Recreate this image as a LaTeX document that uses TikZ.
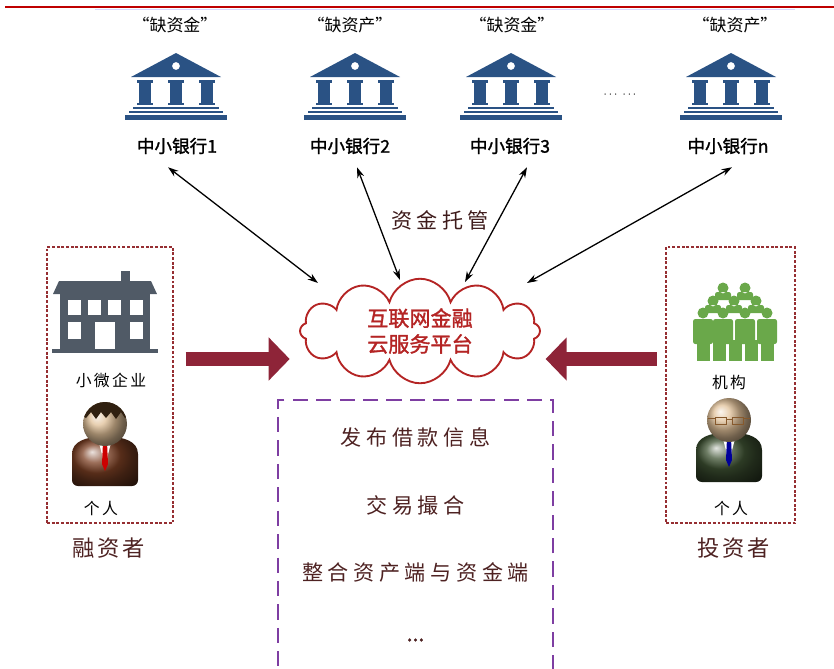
\documentclass[tikz,border=0pt]{standalone}
\usepackage{fontspec}
\setmainfont{Noto Sans CJK SC}[AutoFakeBold=1.5]
\usetikzlibrary{arrows.meta,calc,positioning,shapes.symbols}
\definecolor{bankblue}{RGB}{42,82,132}
\definecolor{housegray}{RGB}{80,90,102}
\definecolor{crowdgreen}{RGB}{106,168,74}
\definecolor{dotred}{RGB}{150,46,50}
\definecolor{blockred}{RGB}{142,36,56}
\definecolor{cloudred}{RGB}{180,36,36}
\definecolor{boxpurple}{RGB}{126,62,162}
\definecolor{inkbrown}{RGB}{78,34,34}
\definecolor{skin}{RGB}{224,192,152}
\definecolor{suitbrown}{RGB}{124,64,36}
\definecolor{suitgreen}{RGB}{64,84,52}
\tikzset{
  quote/.style={font=\fontsize{14.5}{16}\selectfont},
  yinhang/.style={font=\fontsize{15}{16}\selectfont\bfseries},
  tuoguan/.style={
    text=inkbrown!80!black,
    font=\fontsize{18}{20}\selectfont\addfontfeature{LetterSpace=20}
  },
  yun/.style={
    cloud,
    cloud puffs=12,
    cloud ignores aspect,
    draw=cloudred,
    line width=1.6pt,
    minimum width=7.2cm,
    minimum height=2.4cm,
    align=center,
    text=cloudred,
    font=\fontsize{18}{22}\selectfont\bfseries
  },
  dotbox/.style={
    draw=dotred,
    line width=1.5pt,
    dash pattern=on 2.5pt off 1.5pt,
    inner sep=0pt,
    minimum height=8.28cm
  },
  funcbox/.style={
    draw=boxpurple,
    line width=1.8pt,
    dash pattern=on 13pt off 7pt,
    inner sep=0pt,
    minimum width=8.25cm,
    minimum height=9cm
  },
  xiao/.style={font=\fontsize{13.5}{15}\selectfont\addfontfeature{LetterSpace=15}},
  juese/.style={
    text=inkbrown,
    font=\fontsize{19}{21}\selectfont\addfontfeature{LetterSpace=12}
  },
  gongneng/.style={
    text=inkbrown,
    font=\fontsize{18}{20}\selectfont\addfontfeature{LetterSpace=22}
  },
  link/.style={
    <->,
    >={Stealth[length=9pt,width=6pt]},
    line width=1.1pt
  },
  bigarrow/.style={
    blockred,
    line width=12pt,
    -{Triangle[length=18pt,width=36pt]}
  },
  bank/.pic={
    \fill[bankblue,even odd rule] (-45,-8) -- (0,-32) -- (45,-8) -- cycle
      (0,-19) circle[radius=4];
    \foreach \cx in {-31,0,31}{
      \fill[bankblue] (\cx-8,-5) rectangle (\cx+8,-2);
      \fill[bankblue] (\cx-6,-2) rectangle (\cx+6,18);
      \fill[bankblue] (\cx-8,18) rectangle (\cx+8,20);
    }
    \fill[bankblue] (-43,22) rectangle (43,24);
    \fill[bankblue] (-47,25.5) rectangle (47,28);
    \fill[bankblue] (-51,30) rectangle (51,35);
  },
  pics/person/.style 2 args={code={
    \shade[ball color=#1,rounded corners=5pt] (-33,62) -- (-33,36)
      .. controls (-33,17) and (-18,13) .. (0,13)
      .. controls (18,13) and (33,17) .. (33,36) -- (33,62) -- cycle;
    \fill[white] (-7,15) -- (7,15) -- (0,42) -- cycle;
    \fill[#2] (-2,18) -- (2,18) -- (3,40) -- (0,47) -- (-3,40) -- cycle;
    \shade[ball color=skin] (0,0) circle[radius=22];
  }}
}

\begin{document}
\begin{tikzpicture}[x=0.03cm,y=-0.03cm]
\useasboundingbox (0,0) rectangle (834,669);
\draw[red!75!black,line width=0.9pt] (5,7) -- (834,7);
\draw[blue!15,line width=1pt] (95,9.5) -- (795,9.5);

% banks
\node[quote] (q1) at (175,25) {“缺资金”};
\node[quote] (q2) at (350,25) {“缺资产”};
\node[quote] (q3) at (512,25) {“缺资金”};
\node[quote] (q4) at (735,25) {“缺资产”};
\pic at (176,85) {bank};
\pic at (355,85) {bank};
\pic at (511,85) {bank};
\pic at (731,85) {bank};
\node (dots) at (620,95) {$\cdots\;\cdots$};
\node[yinhang] (n1) at (177,146) {中小银行1};
\node[yinhang] (n2) at (350,146) {中小银行2};
\node[yinhang] (n3) at (510,146) {中小银行3};
\node[yinhang] (n4) at (728,146) {中小银行n};

\node[yun] (yun) at (420,331) {互联网金融\\云服务平台};
\node[tuoguan] (tg) at (440,220) {资金托管};
\coordinate (e1) at (318,283);
\coordinate (e2) at (400,280);
\coordinate (e3) at (465,282);
\coordinate (e4) at (527,283);
\draw[link] ($(n1.south)+(-9,9)$) -- (e1);
\draw[link] ($(n2.south)+(7,9)$) -- (e2);
\draw[link] ($(n3.south)+(17,9)$) -- (e3);
\draw[link] ($(n4.south)+(4,9)$) -- (e4);

% borrowers
\node[dotbox,minimum width=3.78cm] (rz) at (110,385) {};
\fill[housegray] (121,271) rectangle (130,283);
\fill[housegray] (59,281) -- (151,281) -- (157,294) -- (53,294) -- cycle;
\fill[housegray] (60,294) rectangle (150,350);
\fill[housegray] (52,349) rectangle (158,353);
\foreach \wx in {68,88,108,130}
  \fill[white] (\wx,300) rectangle ++(13,15);
\fill[white] (68,322) rectangle ++(13,17);
\fill[white] (130,322) rectangle ++(13,17);
\fill[white] (95,322) rectangle (115,349);
\node[xiao] (qiye) at (111,380) {小微企业};
\pic at (105,424) {person={suitbrown}{red!80!black}};
\begin{scope}
  \clip (105,424) circle[radius=22];
  \fill[black!75!brown] (80,399) -- (130,399) -- (130,413) -- (125,418) -- (121,412)
    -- (116,419) -- (111,412) -- (106,418) -- (101,412) -- (96,419) -- (91,412)
    -- (86,418) -- (80,414) -- cycle;
\end{scope}
\node[xiao] (geren1) at (101,508) {个人};
\node[juese] (rzz) at (109,548) {融资者};

% investors
\node[dotbox,minimum width=3.87cm] (tz) at (730.5,385) {};
\foreach \hx/\hy in {723/288,745/288,713/301,734/301,756/301}
  \fill[crowdgreen,rounded corners=2pt] (\hx,\hy) circle[radius=5.5]
    (\hx-8,\hy+4) rectangle (\hx+8,\hy+12);
\foreach \hx in {703,723,745,767}{
  \fill[crowdgreen] (\hx,313) circle[radius=5.5];
  \fill[crowdgreen,rounded corners=2pt] (\hx-10,319) rectangle (\hx+10,344);
}
\foreach \lx in {697,713,729,745,761}
  \fill[crowdgreen] (\lx,340) rectangle ++(13,21);
\node[xiao] (jigou) at (729,382) {机构};
\pic at (729,420) {person={suitgreen}{blue!60!black}};
\draw[brown!70!black,line width=0.7pt] (715,417) rectangle (726,424)
  (732,417) rectangle (743,424) (726,419) -- (732,419)
  (708,418) -- (715,418) (743,418) -- (750,418);
\node[xiao] (geren2) at (731,508) {个人};
\node[juese] (tzz) at (734,548) {投资者};

\coordinate (ay) at (0,359);
\draw[bigarrow,shorten <=10pt,shorten >=8pt] (rz.east |- ay) -- (yun.west |- ay);
\draw[bigarrow,shorten <=7pt,shorten >=4pt] (tz.west |- ay) -- (yun.east |- ay);

% platform functions
\node[funcbox] (gn) at (415.5,550) {};
\node[gongneng] (g1) at (415.5,437) {发布借款信息};
\node[gongneng] (g2) at (415.5,505) {交易撮合};
\node[gongneng] (g3) at (415.5,572) {整合资产端与资金端};
\node[text=inkbrown,font=\fontsize{18}{20}\selectfont\bfseries] (g4) at (415.5,640) {...};
\end{tikzpicture}
\end{document}
